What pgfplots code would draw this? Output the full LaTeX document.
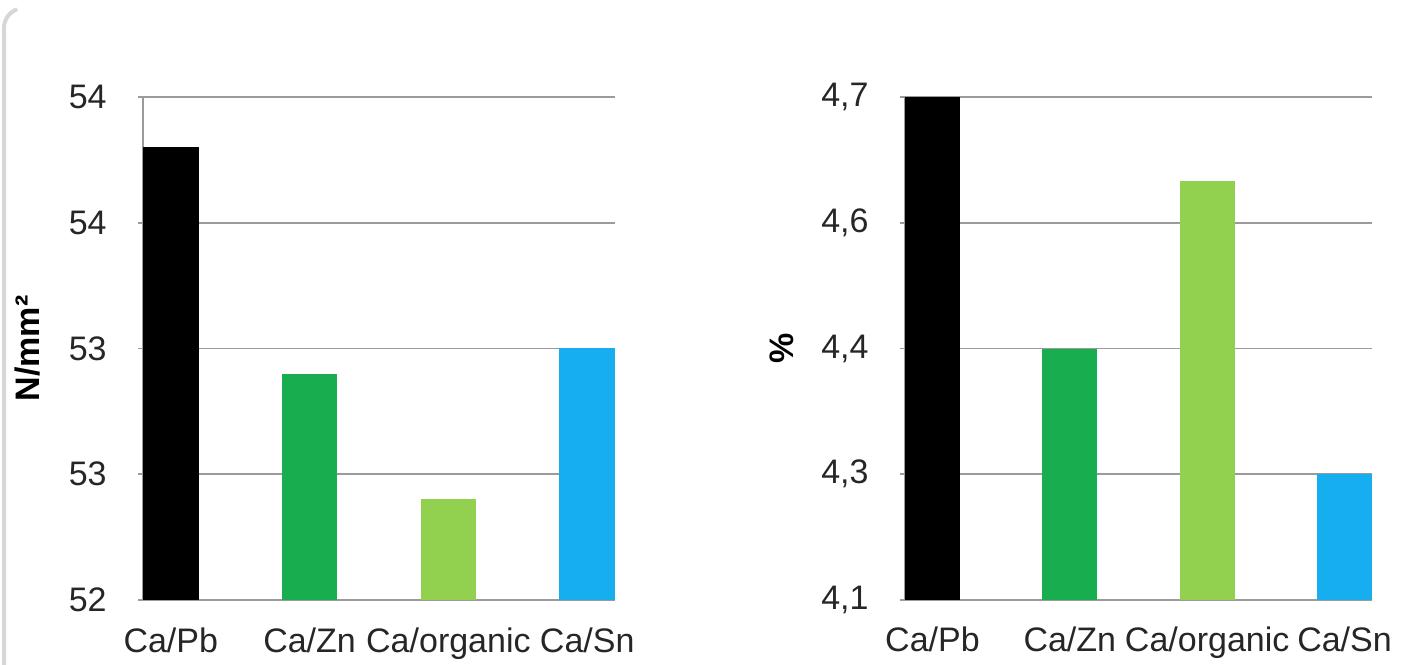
\documentclass[border=0pt]{standalone}
\usepackage{fontspec}
\setmainfont{Liberation Sans}
\usepackage{pgfplots}
\pgfplotsset{compat=1.18}

\definecolor{barblack}{RGB}{0,0,0}
\definecolor{bargreen}{RGB}{24,174,80}
\definecolor{barlime}{RGB}{146,208,80}
\definecolor{barblue}{RGB}{22,174,239}
\definecolor{gridgray}{RGB}{155,155,155}
\definecolor{framegray}{RGB}{215,215,215}

\pgfplotsset{
  excelbars/.style={
    scale only axis,
    height=251.5pt,
    anchor=south west,
    xmin=-0.2, xmax=3.2,
    xtick={0,1,2,3},
    xticklabels={Ca/Pb, Ca/Zn, Ca/organic, Ca/Sn},
    axis x line*=bottom,
    axis y line*=left,
    axis line style={gridgray, line width=0.9pt},
    ymajorgrids,
    grid style={gridgray, line width=0.9pt},
    tick align=outside,
    major tick length=2.5pt,
    ytick style={gridgray, line width=0.8pt},
    xtick style={draw=none},
    tick label style={font=\fontsize{17}{20}\selectfont, text=black!85},
    yticklabel style={anchor=east, inner sep=0pt, xshift=-15.5pt},
    xticklabel style={anchor=base, inner sep=0pt, yshift=-23.5pt},
    label style={font=\fontsize{17}{20}\selectfont\bfseries},
    every axis plot/.append style={ybar, bar shift=0pt, bar width=0.4, draw=none},
  }
}

\begin{document}
\begin{tikzpicture}
\useasboundingbox (0,0) rectangle (704pt,332pt);

% chart area border (left edge with rounded corner)
\draw[framegray, line width=2pt] (2pt,-2pt) -- (2pt,318pt)
  arc[start angle=180, end angle=110, radius=10pt];

% tensile strength
\begin{axis}[excelbars,
  at={(71.5pt,32pt)}, width=236pt,
  ymin=52, ymax=54,
  ytick={52,52.5,53,53.5,54},
  yticklabels={52,53,53,54,54},
  ylabel={N/mm²},
  ylabel style={at={(axis description cs:-0.244,0.5)}, anchor=center, rotate=0},
]
\addplot[fill=barblack] coordinates {(0,53.8)};
\addplot[fill=bargreen] coordinates {(1,52.9)};
\addplot[fill=barlime]  coordinates {(2,52.4)};
\addplot[fill=barblue]  coordinates {(3,53.0)};
\end{axis}

% elongation
\begin{axis}[excelbars,
  at={(452.5pt,32pt)}, width=233.5pt,
  ymin=4.1, ymax=4.7,
  ytick={4.1,4.25,4.4,4.55,4.7},
  yticklabels={{4,1},{4,3},{4,4},{4,6},{4,7}},
  ylabel={\%},
  ylabel style={at={(axis description cs:-0.263,0.5)}, anchor=center, rotate=0},
]
\addplot[fill=barblack] coordinates {(0,4.7)};
\addplot[fill=bargreen] coordinates {(1,4.4)};
\addplot[fill=barlime]  coordinates {(2,4.6)};
\addplot[fill=barblue]  coordinates {(3,4.25)};
\end{axis}
\end{tikzpicture}
\end{document}
